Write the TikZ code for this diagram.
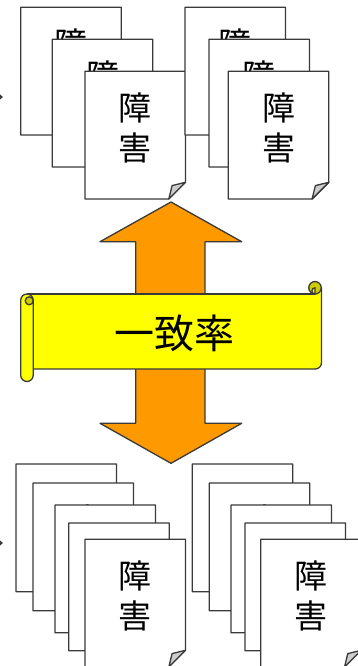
\documentclass[tikz,border=0pt]{standalone}
\usepackage{fontspec}
\newfontfamily\jpfont{Noto Sans CJK JP}
\definecolor{edge}{RGB}{58,58,58}
\definecolor{arroworange}{RGB}{255,153,0}
\definecolor{scrollyellow}{RGB}{255,255,0}
\definecolor{scrolldark}{RGB}{204,204,0}
\definecolor{foldgray}{RGB}{205,205,205}
\tikzset{
  outline/.style={draw=edge, line width=1.3pt, line join=round},
  docshape/.style={outline, fill=white},
  foldshape/.style={outline, fill=foldgray},
  doctext/.style={font=\jpfont\fontsize{33}{40}\selectfont, anchor=base, inner sep=0pt},
  titletext/.style={font=\jpfont\fontsize{40}{48}\selectfont, anchor=base, inner sep=0pt},
  bigarrow/.style={outline, fill=arroworange},
  scrollbody/.style={fill=scrollyellow},
  scrollline/.style={outline},
  rollpart/.style={outline, fill=scrollyellow},
  curlpart/.style={outline, fill=scrolldark},
  tinymark/.style={fill=edge}
}
% #1 name, #2 left x, #3 top y
\newcommand{\docsheet}[3]{%
  \path[docshape] (#2,#3) -- ++(100.5,0) -- ++(0,111) -- ++(-16.7,16.7) -- ++(-83.8,0) -- cycle;
  \path[foldshape] (#2+83.8,#3+127.7) -- (#2+87.1,#3+114.3) -- (#2+100.5,#3+111) -- cycle;
  \node[doctext] (#1a) at (#2+50.25,#3+49) {障};
  \node[doctext] (#1b) at (#2+50.25,#3+89) {害};
}
\begin{document}
\begin{tikzpicture}[x=1pt,y=-1pt]
\useasboundingbox (0,0) rectangle (357,666);
% small marks at left edge
\path[tinymark] (-3,97) -- (0,94.5) -- (3,97) -- (0,99.5) -- cycle;
\path[tinymark] (-3,543) -- (0,540.5) -- (3,543) -- (0,545.5) -- cycle;
% up-down arrow
\path[bigarrow] (171,202) -- (241.7,241.7) -- (205,241.7) -- (205,423.3) -- (241.7,423.3)
  -- (171,463.3) -- (100,423.3) -- (135.7,423.3) -- (135.7,241.7) -- (100,241.7) -- cycle;
% top documents
\docsheet{ta}{20.7}{7.3}
\docsheet{tb}{52.3}{39.3}
\docsheet{tc}{85}{71.3}
\docsheet{td}{185}{7.3}
\docsheet{te}{209}{39.3}
\docsheet{tf}{228.3}{71.3}
% bottom documents
\docsheet{ba}{16}{464}
\docsheet{bb}{33}{483}
\docsheet{bc}{55}{505}
\docsheet{bd}{68.7}{523}
\docsheet{be}{85}{539.3}
\docsheet{bf}{192.3}{464}
\docsheet{bg}{209.3}{483}
\docsheet{bh}{231}{505}
\docsheet{bi}{245}{523}
\docsheet{bj}{260.7}{539.3}
% scroll body
\path[scrollbody] (26.95,294) -- (315.25,294) -- (315.25,287.75) -- (321.5,287.75) -- (321.5,362.75)
  arc[start angle=0, end angle=90, radius=6.25] -- (26.95,369) -- cycle;
\path[scrollline] (26.95,294) -- (315.25,294);
\path[scrollline] (321.5,287.75) -- (321.5,362.75)
  arc[start angle=0, end angle=90, radius=6.25] -- (33.2,369);
% left roll
\path[rollpart] (20.7,300.25) -- (20.7,375.25) arc[start angle=180, end angle=0, radius=6.25]
  -- (33.2,300.25) arc[start angle=0, end angle=-180, radius=6.25] -- cycle;
\path[curlpart] (29.2,300.8) circle[radius=4];
% right curl
\path[curlpart] (315,287.75) circle[radius=6.25];
\path[rollpart] (315,287.75) arc[start angle=-90, end angle=-270, radius=3.125] -- cycle;
% title
\node[titletext] (ratio) at (174,348.5) {一致率};
\end{tikzpicture}
\end{document}
